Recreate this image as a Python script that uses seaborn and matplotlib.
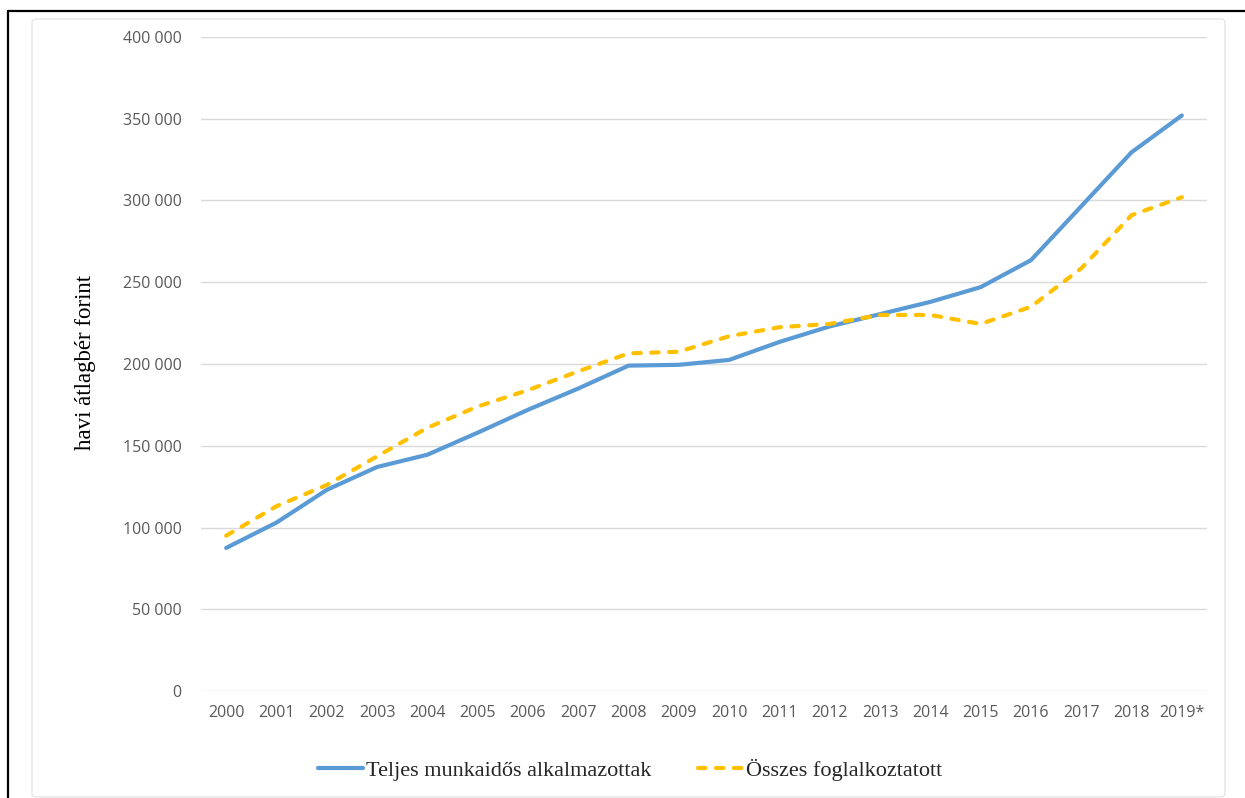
import numpy as np
import pandas as pd
import matplotlib
matplotlib.use("Agg")
import matplotlib.pyplot as plt
from matplotlib.lines import Line2D
from matplotlib.patches import FancyBboxPatch
import seaborn as sns

# data (HUF / month)
years = ['2000', '2001', '2002', '2003', '2004', '2005', '2006', '2007', '2008', '2009',
         '2010', '2011', '2012', '2013', '2014', '2015', '2016', '2017', '2018', '2019*']
teljes = [87500, 103000, 123000, 137000, 144500, 158000, 172000, 185000, 199000, 199500,
          202500, 213500, 223000, 230500, 238000, 247000, 263500, 296500, 329500, 352000]
osszes = [95000, 113000, 126000, 143500, 161000, 174000, 184000, 195500, 206500, 207500,
          217000, 222500, 224500, 230000, 230000, 224500, 235000, 258500, 291000, 302000]
yticks = [0, 50000, 100000, 150000, 200000, 250000, 300000, 350000, 400000]

sns.set_theme(style="white")
plt.rcParams['font.family'] = ['Open Sans', 'DejaVu Sans']

df = pd.DataFrame({'pos': np.arange(len(years)), 'teljes': teljes, 'osszes': osszes})

fig = plt.figure(figsize=(12.45, 7.98), dpi=100)
ax = fig.add_axes([201 / 1245, 1 - 691 / 798, 1006 / 1245, 654 / 798])

sns.lineplot(data=df, x='pos', y='teljes', ax=ax, color='#5B9BD5', linewidth=3.0,
             solid_capstyle='round', solid_joinstyle='round',
             label='Teljes munkaidős alkalmazottak')
sns.lineplot(data=df, x='pos', y='osszes', ax=ax, color='#FFC000', linewidth=3.0,
             linestyle=(0, (1.8, 2.5)), dash_capstyle='round',
             label='Összes foglalkoztatott')

ax.set_xlim(-0.5, len(years) - 0.5)
ax.set_ylim(0, 400000)
ax.set_xticks(df['pos'])
ax.set_xticklabels(years)
ax.set_yticks(yticks)
ax.set_yticklabels([f"{v:,}".replace(',', ' ') for v in yticks])
ax.tick_params(axis='both', length=0, labelsize=11.5, labelcolor='#595959')
ax.tick_params(axis='y', pad=14)
ax.tick_params(axis='x', pad=10)
ax.grid(axis='y', color='#D9D9D9', linewidth=1)
ax.set_axisbelow(True)
for s in ax.spines.values():
    s.set_visible(False)
ax.set_xlabel('')
ax.set_ylabel('')

fig.text(85 / 1245, 1 - 362 / 798, 'havi átlagbér forint', rotation=90, ha='center', va='center',
         family='Liberation Serif', fontsize=16.5, color='black')

handles, labels = ax.get_legend_handles_labels()
ax.get_legend().remove()
fig.legend(handles, labels, loc='center', bbox_to_anchor=(630 / 1245, 1 - 770 / 798), ncol=2,
           frameon=False, handlelength=2.0, handletextpad=0.15, columnspacing=2.1,
           prop={'family': 'Liberation Serif', 'size': 16})

# chart area border and black frame
fig.patches.append(FancyBboxPatch((32 / 1245, 1 / 798), 1193 / 1245, 778 / 798,
                                  boxstyle='round,pad=0,rounding_size=0.004',
                                  transform=fig.transFigure, fill=False,
                                  edgecolor='#E6E6E6', linewidth=1))
fig.lines.append(Line2D([8 / 1245, 8 / 1245], [0, 1 - 11 / 798], transform=fig.transFigure,
                        color='black', linewidth=1.6))
fig.lines.append(Line2D([8 / 1245, 1], [1 - 11 / 798, 1 - 11 / 798], transform=fig.transFigure,
                        color='black', linewidth=1.6))

fig.savefig('out.png', dpi=100)
